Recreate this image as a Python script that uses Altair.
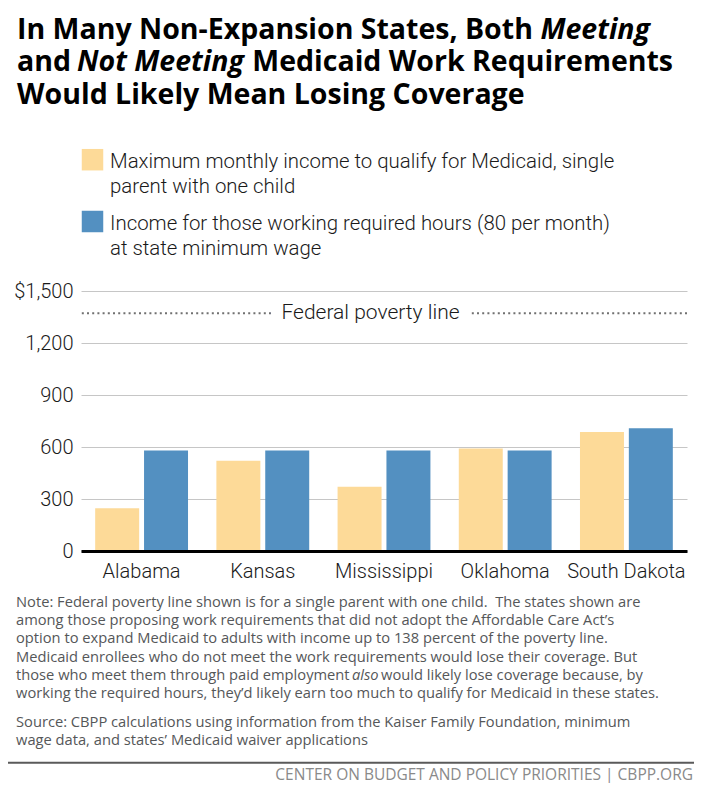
import altair as alt
import pandas as pd

# ---------------- data ----------------
states = ["Alabama", "Kansas", "Mississippi", "Oklahoma", "South Dakota"]
series_keys = ["max_income", "min_wage_income"]
max_income = [247, 521, 370, 592, 686]          # max monthly income to qualify
min_wage_income = [580, 580, 580, 580, 708]     # 80 hrs/month at state minimum wage
poverty_line = [1372]
y_ticks = [0, 300, 600, 900, 1200, 1500]

title_l1 = ["In Many Non-Expansion States, Both ", "Meeting"]
title_l2 = ["and ", "Not Meeting", " Medicaid Work Requirements"]
title_l3 = "Would Likely Mean Losing Coverage"
legend_labels = [
    "Maximum monthly income to qualify for Medicaid, single\nparent with one child",
    "Income for those working required hours (80 per month)\nat state minimum wage",
]
poverty_label = "Federal poverty line"
note_lines = [
    "Note: Federal poverty line shown is for a single parent with one child.\u00a0 The states shown are",
    "among those proposing work requirements that did not adopt the Affordable Care Act\u2019s",
    "option to expand Medicaid to adults with income up to 138 percent of the poverty line.",
    "Medicaid enrollees who do not meet the work requirements would lose their coverage. But",
]
note_line5 = ["those who meet them through paid employment", "also", "would likely lose coverage because, by"]
note_line6 = "working the required hours, they\u2019d likely earn too much to qualify for Medicaid in these states."
source_lines = [
    "Source: CBPP calculations using information from the Kaiser Family Foundation, minimum",
    "wage data, and states\u2019 Medicaid waiver applications",
]
footer = "CENTER ON BUDGET AND POLICY PRIORITIES | CBPP.ORG"

YELLOW = "#FDDA98"
BLUE = "#5390C1"

rows = []
for s, a, b in zip(states, max_income, min_wage_income):
    rows.append({"state": s, "series": series_keys[0], "value": a})
    rows.append({"state": s, "series": series_keys[1], "value": b})
df = pd.DataFrame(rows)
pov_df = pd.DataFrame({"value": poverty_line, "label": [poverty_label]})
one = pd.DataFrame({"k": [0]})

FONT = "Roboto"
TFONT = "Open Sans"

bars = alt.Chart(df).mark_bar().encode(
    x=alt.X("state:N", sort=states,
            scale=alt.Scale(paddingInner=0.234, paddingOuter=0.117),
            axis=alt.Axis(title=None, labelAngle=0, ticks=False, tickSize=0,
                          domain=True, domainColor="#000000", domainWidth=3,
                          labelFont=FONT, labelFontSize=20, labelFontWeight=300,
                          labelColor="#1a1a1a",
                          labelPadding=10, grid=False, zindex=1)),
    xOffset=alt.XOffset("series:N", sort=series_keys,
                        scale=alt.Scale(paddingInner=0.1, paddingOuter=0)),
    y=alt.Y("value:Q", scale=alt.Scale(domain=[0, 1500], nice=False),
            axis=alt.Axis(title=None, values=y_ticks, ticks=False, tickSize=0,
                          domain=False, grid=True, gridColor="#c6c6c6", gridWidth=1,
                          labelFont=FONT, labelFontSize=20, labelFontWeight=300,
                          labelColor="#1a1a1a",
                          labelPadding=8, zindex=0,
                          labelExpr="datum.value == 1500 ? '$1,500' : format(datum.value, ',')")),
    color=alt.Color("series:N", sort=series_keys,
                    scale=alt.Scale(domain=series_keys, range=[YELLOW, BLUE]),
                    legend=None),
)

pov_rule = alt.Chart(pov_df).mark_rule(
    strokeDash=[2, 3.2], strokeWidth=2, color="#707070"
).encode(y="value:Q")

pov_text_bg = alt.Chart(pov_df).mark_text(
    font=FONT, fontSize=21, fontWeight=300, align="center", baseline="middle",
    stroke="white", strokeWidth=24, strokeJoin="round", color="white"
).encode(x=alt.value(289.5), y="value:Q", text="label:N")

pov_text = alt.Chart(pov_df).mark_text(
    font=FONT, fontSize=21, fontWeight=300, align="center", baseline="middle",
    color="#1a1a1a"
).encode(x=alt.value(289.5), y="value:Q", text="label:N")


def txt(s, x, y, size, color, weight="normal", style="normal", align="left",
        baseline="alphabetic", lh=None, font=FONT):
    props = dict(text=s, align=align, baseline=baseline, fontSize=size,
                 color=color, font=font, fontWeight=weight, fontStyle=style)
    if lh:
        props.update(lineBreak="\n", lineHeight=lh)
    return alt.Chart(one).mark_text(**props).encode(x=alt.value(x), y=alt.value(y))


TS = 28.5
title_layers = [
    txt(title_l1[0], -64, -252.5, TS, "#000000", weight="bold", font=TFONT),
    txt(title_l1[1], 569, -252.5, TS, "#000000", weight="bold", style="italic", align="right", font=TFONT),
    txt(title_l2[0], -64, -220, TS, "#000000", weight="bold", font=TFONT),
    txt(title_l2[1], -4, -220, TS, "#000000", weight="bold", style="italic", font=TFONT),
    txt(title_l2[2], 592, -220, TS, "#000000", weight="bold", align="right", font=TFONT),
    txt(title_l3, -64, -187.5, TS, "#000000", weight="bold", font=TFONT),
]

legend_sq1 = alt.Chart(one).mark_square(size=462, color=YELLOW, opacity=1).encode(
    x=alt.value(11.5), y=alt.value(-131.3))
legend_sq2 = alt.Chart(one).mark_square(size=462, color=BLUE, opacity=1).encode(
    x=alt.value(11.5), y=alt.value(-69.5))
legend_layers = [
    legend_sq1, legend_sq2,
    txt(legend_labels[0], 29, -122.7, 20.4, "#1a1a1a", weight=300, lh=25),
    txt(legend_labels[1], 29, -61, 20.4, "#1a1a1a", weight=300, lh=25),
]

NS = 14.7
NC = "#555759"
note_layers = [
    txt("\n".join(note_lines), -65, 315.7, NS, NC, lh=18.3, font=TFONT),
    txt(note_line5[0], -65, 388.9, NS, NC, font=TFONT),
    txt(note_line5[1], 271, 388.9, NS, NC, style="italic", font=TFONT),
    txt(note_line5[2], 300, 388.9, NS, NC, font=TFONT),
    txt(note_line6, -65, 407.2, NS, NC, font=TFONT),
    txt("\n".join(source_lines), -65, 435.7, NS, NC, lh=18.3, font=TFONT),
    txt(footer, 612, 488.5, 15.5, "#8a8a8a", align="right", font=TFONT),
]

separator = alt.Chart(one).mark_rule(color="#5a5a5a", strokeWidth=2).encode(
    x=alt.value(-73), x2=alt.value(613), y=alt.value(471.7))

chart = alt.layer(
    bars, pov_rule, pov_text_bg, pov_text,
    *title_layers, *legend_layers, *note_layers, separator
).properties(
    width=606, height=260,
    padding={"left": 73, "top": 283, "right": 7, "bottom": 232},
    autosize=alt.AutoSizeParams(type="none"),
    background="white",
).configure_view(strokeWidth=0)

chart.save("out.html", embed_options={"renderer": "svg", "actions": False})
